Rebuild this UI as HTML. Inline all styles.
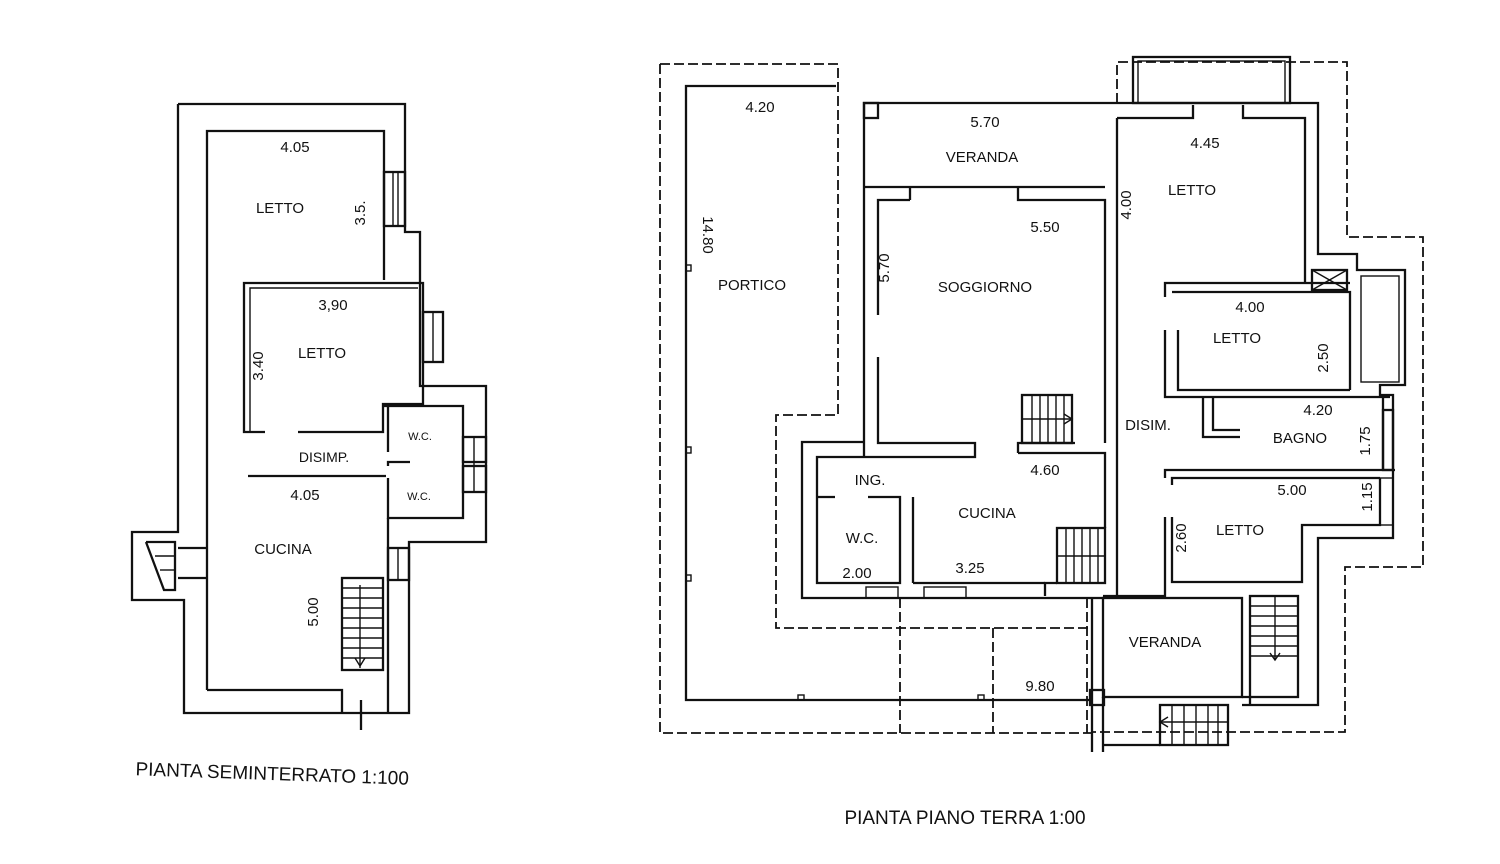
<!DOCTYPE html>
<html><head><meta charset="utf-8"><style>
html,body{margin:0;padding:0;background:#fff;}
svg{display:block}
text{font-family:"Liberation Sans",sans-serif;font-size:15px;fill:#111;text-anchor:middle;}
.s{fill:none;stroke:#111;stroke-width:2.3;stroke-linejoin:miter}
.t{fill:none;stroke:#111;stroke-width:1.4}
.d{fill:none;stroke:#111;stroke-width:1.8;stroke-dasharray:10 4}
</style></head><body>
<svg width="1500" height="864" viewBox="0 0 1500 864" xmlns="http://www.w3.org/2000/svg">
<!-- ================= LEFT PLAN ================= -->
<g>
<polyline class="s" points="178,104 405,104 405,232 420,232 420,386 443,386 443,386 486,386 486,542 409,542 409,713 184,713 184,600 132,600 132,532 178,532 178,104"/>
<polyline class="s" points="207,690 207,131 384,131 384,280"/>
<polyline class="s" points="207,690 342,690 342,713"/>
<!-- window bedroom1 -->
<rect class="s" x="384" y="172" width="21" height="54"/>
<line class="t" x1="393" y1="172" x2="393" y2="226"/><line class="t" x1="398" y1="172" x2="398" y2="226"/>
<!-- bedroom2 -->
<polyline class="s" points="265,432 244,432 244,283 423,283 423,404 383,404 383,432 298,432"/>
<polyline class="t" points="250,432 250,288 418,288"/>
<rect class="s" x="423" y="312" width="20" height="50"/>
<line class="t" x1="433" y1="312" x2="433" y2="362"/>
<!-- WC block -->
<polyline class="s" points="383,406 463,406 463,518 388,518 388,478"/>
<line class="s" x1="388" y1="406" x2="388" y2="452"/>
<polyline class="s" points="410,462 388,462 388,466"/>
<rect class="s" x="463" y="437" width="23" height="25"/>
<rect class="s" x="463" y="466" width="23" height="26"/>
<line class="t" x1="474" y1="437" x2="474" y2="492"/>
<!-- disimp wall -->
<line class="s" x1="248" y1="476" x2="386" y2="476"/>
<!-- cucina right -->
<polyline class="s" points="388,518 388,713"/>
<rect class="s" x="388" y="548" width="21" height="32"/>
<line class="t" x1="398" y1="548" x2="398" y2="580"/>
<!-- stairs -->
<rect class="s" x="342" y="578" width="41" height="92"/>
<g class="t">
<line x1="342" y1="588" x2="383" y2="588"/><line x1="342" y1="598" x2="383" y2="598"/><line x1="342" y1="608" x2="383" y2="608"/><line x1="342" y1="618" x2="383" y2="618"/><line x1="342" y1="628" x2="383" y2="628"/><line x1="342" y1="638" x2="383" y2="638"/><line x1="342" y1="648" x2="383" y2="648"/><line x1="342" y1="658" x2="383" y2="658"/>
<line x1="360" y1="585" x2="360" y2="668"/>
</g>
<polyline class="t" points="355,658 360,666 365,658"/>
<line class="s" x1="361" y1="700" x2="361" y2="730"/>
<!-- left stair -->
<polyline class="s" points="146,542 175,542 175,590 164,590 146,542"/>
<line class="t" x1="155" y1="556" x2="175" y2="556"/><line class="t" x1="160" y1="570" x2="175" y2="570"/>
<line class="s" x1="178" y1="548" x2="207" y2="548"/><line class="s" x1="178" y1="578" x2="207" y2="578"/>
<text x="295" y="152">4.05</text>
<text x="280" y="213">LETTO</text>
<text x="365" y="213" transform="rotate(-90 365 213)">3.5.</text>
<text x="333" y="310">3,90</text>
<text x="322" y="358">LETTO</text>
<text x="263" y="366" transform="rotate(-90 263 366)">3.40</text>
<text x="324" y="462" style="font-size:14px">DISIMP.</text>
<text x="420" y="440" style="font-size:11px">W.C.</text>
<text x="419" y="500" style="font-size:11px">W.C.</text>
<text x="305" y="500">4.05</text>
<text x="283" y="554">CUCINA</text>
<text x="318" y="612" transform="rotate(-90 318 612)">5.00</text>
<text x="272" y="780" style="font-size:19px" transform="rotate(2 272 780)">PIANTA SEMINTERRATO  1:100</text>
</g>

<!-- ================= RIGHT PLAN ================= -->
<g>
<!-- dashed outlines -->
<polyline class="d" points="660,64 838,64 838,415 776,415 776,628 1090,628"/>
<polyline class="d" points="660,64 660,733 1095,733"/>
<polyline class="d" points="1117,103 1117,62 1347,62 1347,237 1423,237 1423,567 1345,567 1345,732 1093,732"/>
<line class="d" x1="900" y1="598" x2="900" y2="733"/>
<line class="d" x1="993" y1="628" x2="993" y2="733"/>
<line class="d" x1="1087" y1="598" x2="1087" y2="733"/>
<!-- portico -->
<polyline class="s" points="836,86 686,86 686,700 1092,700"/>
<g class="t"><rect x="686" y="265" width="5" height="6"/><rect x="686" y="447" width="5" height="6"/><rect x="686" y="575" width="5" height="6"/><rect x="798" y="695" width="6" height="5"/><rect x="978" y="695" width="6" height="5"/></g>
<!-- balcony -->
<rect class="s" x="1133" y="57" width="157" height="46"/>
<rect class="t" x="1138" y="61" width="147" height="42"/>
<!-- veranda top -->
<polyline class="s" points="864,457 864,103 1318,103 1318,254 1357,254 1357,270 1405,270 1405,385 1380,385 1380,395 1393,395 1393,538 1318,538 1318,705 1242,705"/>
<rect class="s" x="864" y="103" width="14" height="15"/>
<polyline class="s" points="864,187 1105,187"/>
<polyline class="s" points="910,200 878,200 878,315"/>
<line class="s" x1="910" y1="187" x2="910" y2="200"/>
<polyline class="s" points="1018,187 1018,200 1105,200 1105,443"/>
<polyline class="s" points="878,357 878,443 975,443 975,457 864,457"/>
<!-- kitchen top wall -->
<polyline class="s" points="1018,453 1018,443 1075,443"/>
<polyline class="s" points="1018,453 1105,453 1105,528"/>
<!-- soggiorno stair -->
<rect class="s" x="1022" y="395" width="50" height="48"/>
<g class="t"><line x1="1032" y1="395" x2="1032" y2="443"/><line x1="1040" y1="395" x2="1040" y2="443"/><line x1="1048" y1="395" x2="1048" y2="443"/><line x1="1056" y1="395" x2="1056" y2="443"/><line x1="1064" y1="395" x2="1064" y2="443"/><line x1="1022" y1="419" x2="1072" y2="419"/></g>
<polyline class="t" points="1064,414 1072,419 1064,424"/>
<!-- spine -->
<line class="s" x1="1117" y1="118" x2="1117" y2="598"/>
<!-- bedroom 1 -->
<polyline class="s" points="1117,118 1193,118 1193,105"/>
<polyline class="s" points="1243,105 1243,118 1305,118 1305,283"/>
<!-- between bedrooms -->
<polyline class="s" points="1165,297 1165,283 1350,283"/>
<polyline class="s" points="1172,292 1350,292 1350,390"/>
<rect class="s" x="1312" y="270" width="35" height="20"/>
<line class="t" x1="1312" y1="270" x2="1347" y2="290"/><line class="t" x1="1347" y1="270" x2="1312" y2="290"/>
<rect class="t" x="1361" y="276" width="38" height="106"/>
<!-- letto2 -->
<polyline class="s" points="1165,330 1165,397 1390,397"/>
<polyline class="s" points="1178,330 1178,390 1350,390"/>
<!-- bagno -->
<polyline class="s" points="1203,397 1203,437 1240,437"/>
<polyline class="s" points="1213,397 1213,430 1240,430"/>
<polyline class="s" points="1383,397 1383,470"/>
<rect class="s" x="1383" y="410" width="10" height="60"/>
<polyline class="s" points="1165,478 1165,470 1395,470"/>
<polyline class="s" points="1172,485 1172,478 1380,478"/>
<!-- letto3 -->
<polyline class="s" points="1165,517 1165,596 1103,596"/>
<polyline class="s" points="1172,517 1172,582 1302,582 1302,525 1380,525 1380,478"/>
<rect class="t" x="1380" y="478" width="13" height="47"/>
<!-- kitchen stair -->
<rect class="s" x="1057" y="528" width="48" height="55"/>
<g class="t"><line x1="1066" y1="528" x2="1066" y2="583"/><line x1="1074" y1="528" x2="1074" y2="583"/><line x1="1082" y1="528" x2="1082" y2="583"/><line x1="1090" y1="528" x2="1090" y2="583"/><line x1="1098" y1="528" x2="1098" y2="583"/><line x1="1057" y1="556" x2="1105" y2="556"/></g>
<polyline class="s" points="1045,596 1045,583 1057,583"/>
<!-- kitchen / ing bottom -->
<polyline class="s" points="864,442 802,442 802,598 1103,598"/>
<polyline class="s" points="864,457 817,457 817,583 900,583 900,497 868,497"/>
<polyline class="s" points="835,497 817,497"/>
<polyline class="s" points="913,583 913,497 913,497"/>
<line class="s" x1="913" y1="583" x2="1045" y2="583"/>
<rect class="t" x="866" y="587" width="32" height="11"/>
<rect class="t" x="924" y="587" width="42" height="11"/>
<!-- veranda bottom -->
<rect class="s" x="1103" y="598" width="139" height="99"/>
<line class="s" x1="1092" y1="598" x2="1092" y2="752"/>
<line class="s" x1="1103" y1="697" x2="1103" y2="752"/>
<rect class="s" x="1090" y="690" width="14" height="15"/>
<!-- bottom-right stair -->
<rect class="s" x="1250" y="596" width="48" height="101"/>
<g class="t"><line x1="1250" y1="606" x2="1298" y2="606"/><line x1="1250" y1="616" x2="1298" y2="616"/><line x1="1250" y1="626" x2="1298" y2="626"/><line x1="1250" y1="636" x2="1298" y2="636"/><line x1="1250" y1="646" x2="1298" y2="646"/><line x1="1250" y1="656" x2="1298" y2="656"/><line x1="1275" y1="596" x2="1275" y2="660"/></g>
<polyline class="t" points="1270,653 1275,660 1280,653"/>
<polyline class="s" points="1242,697 1250,697 1250,705"/>
<!-- entry stairs -->
<rect class="s" x="1160" y="705" width="68" height="40"/>
<g class="t"><line x1="1172" y1="705" x2="1172" y2="745"/><line x1="1184" y1="705" x2="1184" y2="745"/><line x1="1196" y1="705" x2="1196" y2="745"/><line x1="1208" y1="705" x2="1208" y2="745"/><line x1="1218" y1="705" x2="1218" y2="745"/><line x1="1160" y1="722" x2="1228" y2="722"/></g>
<polyline class="t" points="1168,717 1160,722 1168,727"/>
<polyline class="s" points="1103,745 1160,745"/>
<text x="760" y="112">4.20</text>
<text x="703" y="235" transform="rotate(90 703 235)">14.80</text>
<text x="752" y="290">PORTICO</text>
<text x="985" y="127">5.70</text>
<text x="982" y="162">VERANDA</text>
<text x="1045" y="232">5.50</text>
<text x="889" y="268" transform="rotate(-90 889 268)">5.70</text>
<text x="985" y="292">SOGGIORNO</text>
<text x="1131" y="205" transform="rotate(-90 1131 205)">4.00</text>
<text x="1205" y="148">4.45</text>
<text x="1192" y="195">LETTO</text>
<text x="1250" y="312">4.00</text>
<text x="1237" y="343">LETTO</text>
<text x="1328" y="358" transform="rotate(-90 1328 358)">2.50</text>
<text x="1148" y="430">DISIM.</text>
<text x="1318" y="415">4.20</text>
<text x="1300" y="443">BAGNO</text>
<text x="1370" y="441" transform="rotate(-90 1370 441)">1.75</text>
<text x="870" y="485">ING.</text>
<text x="1045" y="475">4.60</text>
<text x="987" y="518">CUCINA</text>
<text x="1292" y="495">5.00</text>
<text x="1372" y="497" transform="rotate(-90 1372 497)">1.15</text>
<text x="862" y="543">W.C.</text>
<text x="1240" y="535">LETTO</text>
<text x="1186" y="538" transform="rotate(-90 1186 538)">2.60</text>
<text x="857" y="578">2.00</text>
<text x="970" y="573">3.25</text>
<text x="1165" y="647">VERANDA</text>
<text x="1040" y="691">9.80</text>
<text x="965" y="824" style="font-size:19px">PIANTA PIANO TERRA   1:00</text>
</g>
</svg>
</body></html>
